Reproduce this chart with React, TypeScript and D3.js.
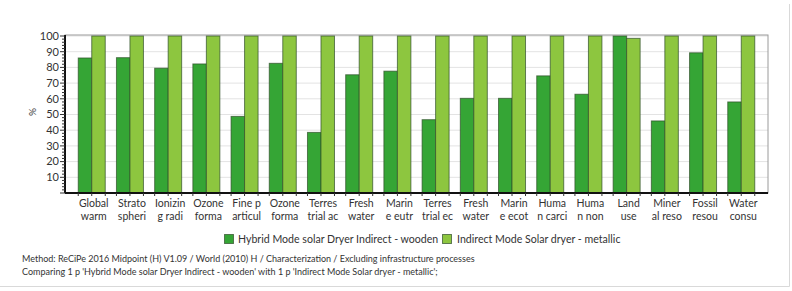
import React from 'react'
import * as d3 from 'd3'

// impact categories (two-line labels as shown under the axis)
const categories = [
  ['Global', 'warm'], ['Strato', 'spheri'], ['Ionizin', 'g radi'], ['Ozone', 'forma'],
  ['Fine p', 'articul'], ['Ozone', 'forma'], ['Terres', 'trial ac'], ['Fresh', 'water'],
  ['Marin', 'e eutr'], ['Terres', 'trial ec'], ['Fresh', 'water'], ['Marin', 'e ecot'],
  ['Huma', 'n carci'], ['Huma', 'n non'], ['Land', 'use'], ['Miner', 'al reso'],
  ['Fossil', 'resou'], ['Water', 'consu'],
]
const hybridWooden = [86, 86.2, 79.5, 82.2, 48.8, 82.6, 38.6, 75.3, 77.6, 46.7, 60.3, 60.3, 74.6, 62.9, 100, 45.9, 89.3, 58]
const indirectMetallic = [100, 100, 100, 100, 100, 100, 100, 100, 100, 100, 100, 100, 100, 100, 98.5, 100, 100, 100]
const seriesNames = ['Hybrid Mode solar Dryer Indirect - wooden', 'Indirect Mode Solar dryer - metallic']
const seriesColors = ['#35a535', '#8dc63f']
const yTicks = [10, 20, 30, 40, 50, 60, 70, 80, 90, 100]
const footer = [
  'Method: ReCiPe 2016 Midpoint (H) V1.09 / World (2010) H / Characterization / Excluding infrastructure processes',
  "Comparing 1 p 'Hybrid Mode solar Dryer Indirect - wooden' with 1 p 'Indirect Mode Solar dryer - metallic';",
]

const W = 792
const H = 291
const plot = { left: 65, top: 35, right: 768, bottom: 193 }
const font = "Lato, 'Noto Sans', sans-serif"

export default function App() {
  const ids = categories.map((_, i) => String(i))
  const x = d3.scaleBand().domain(ids).range([plot.left, plot.right]).paddingInner(0).paddingOuter(0.2)
  const sub = d3.scaleBand().domain(['0', '1']).range([0, x.bandwidth()]).paddingInner(0).paddingOuter(0.415)
  const y = d3.scaleLinear().domain([0, 100]).range([plot.bottom, plot.top + 1])
  const minor = d3.range(0, 101, 2)
  const series = [hybridWooden, indirectMetallic]

  const xMinor: number[] = []
  ids.forEach((id) => {
    const x0 = x(id) as number
    xMinor.push(x0 + x.bandwidth() / 2, x0 + sub('0')!, x0 + sub('1')! + sub.bandwidth())
  })

  return (
    <svg width={W} height={H} style={{ position: 'absolute', left: 0, top: 0, fontFamily: font }}>
      <rect x={0} y={0} width={W} height={H} fill="#fff" />
      {/* outer panel border */}
      <line x1={789.5} x2={789.5} y1={4} y2={286.5} stroke="#d9d9d9" />
      <line x1={0} x2={789.5} y1={286.5} y2={286.5} stroke="#d9d9d9" />

      {/* grid */}
      {yTicks.map((t) => (
        <line key={'g' + t} x1={plot.left} x2={plot.right} y1={y(t)} y2={y(t)} stroke="#e3e3e3" />
      ))}
      <rect x={plot.left} y={plot.top} width={plot.right - plot.left} height={plot.bottom - plot.top}
        fill="none" stroke="#9a9a9a" />

      {/* bars */}
      {series.map((vals, s) =>
        vals.map((v, i) => (
          <rect key={s + '-' + i}
            x={(x(String(i)) as number) + (sub(String(s)) as number)}
            y={y(v)}
            width={sub.bandwidth()}
            height={plot.bottom - y(v)}
            fill={seriesColors[s]} stroke="#2f4f2a" strokeOpacity={0.7} strokeWidth={1} />
        ))
      )}

      {/* y axis */}
      <line x1={plot.left} x2={plot.left} y1={plot.top} y2={plot.bottom} stroke="#111" strokeWidth={2} />
      {minor.map((t) => (
        <line key={'m' + t} x1={plot.left - (t % 10 === 0 ? 5 : 3)} x2={plot.left} y1={y(t)} y2={y(t)} stroke="#333" />
      ))}
      {yTicks.map((t) => (
        <text key={'l' + t} x={plot.left - 6} y={y(t)} dy="0.35em" textAnchor="end" fontSize={11} fill="#333">{t}</text>
      ))}
      <text transform={`translate(36,${(plot.top + plot.bottom) / 2 - 2}) rotate(-90)`} textAnchor="middle"
        fontSize={10} fill="#333">%</text>

      {/* x axis */}
      <line x1={plot.left} x2={plot.right} y1={plot.bottom} y2={plot.bottom} stroke="#111" strokeWidth={2} />
      {xMinor.map((px, i) => (
        <line key={'xm' + i} x1={px} x2={px} y1={plot.bottom} y2={plot.bottom + 3} stroke="#333" />
      ))}
      {categories.map((lines, i) => (
        <text key={'c' + i} y={207} textAnchor="middle" fontSize={10.5} fill="#333">
          <tspan x={(x(String(i)) as number) + x.bandwidth() / 2 + 2} dy={0}>{lines[0]}</tspan>
          <tspan x={(x(String(i)) as number) + x.bandwidth() / 2 + 2} dy={13}>{lines[1]}</tspan>
        </text>
      ))}

      {/* legend */}
      <rect x={224.5} y={234.5} width={9} height={9} fill={seriesColors[0]} stroke="#2f4f2a" strokeOpacity={0.7} />
      <text x={238} y={239} dy="0.35em" fontSize={10.6} fill="#333">{seriesNames[0]}</text>
      <rect x={442.5} y={234.5} width={9} height={9} fill={seriesColors[1]} stroke="#2f4f2a" strokeOpacity={0.7} />
      <text x={457} y={239} dy="0.35em" fontSize={10.6} fill="#333">{seriesNames[1]}</text>

      {/* footer */}
      {footer.map((t, i) => (
        <text key={'f' + i} x={22} y={259 + i * 12.5} dy="0.35em" fontSize={9} fill="#333">{t}</text>
      ))}
    </svg>
  )
}
